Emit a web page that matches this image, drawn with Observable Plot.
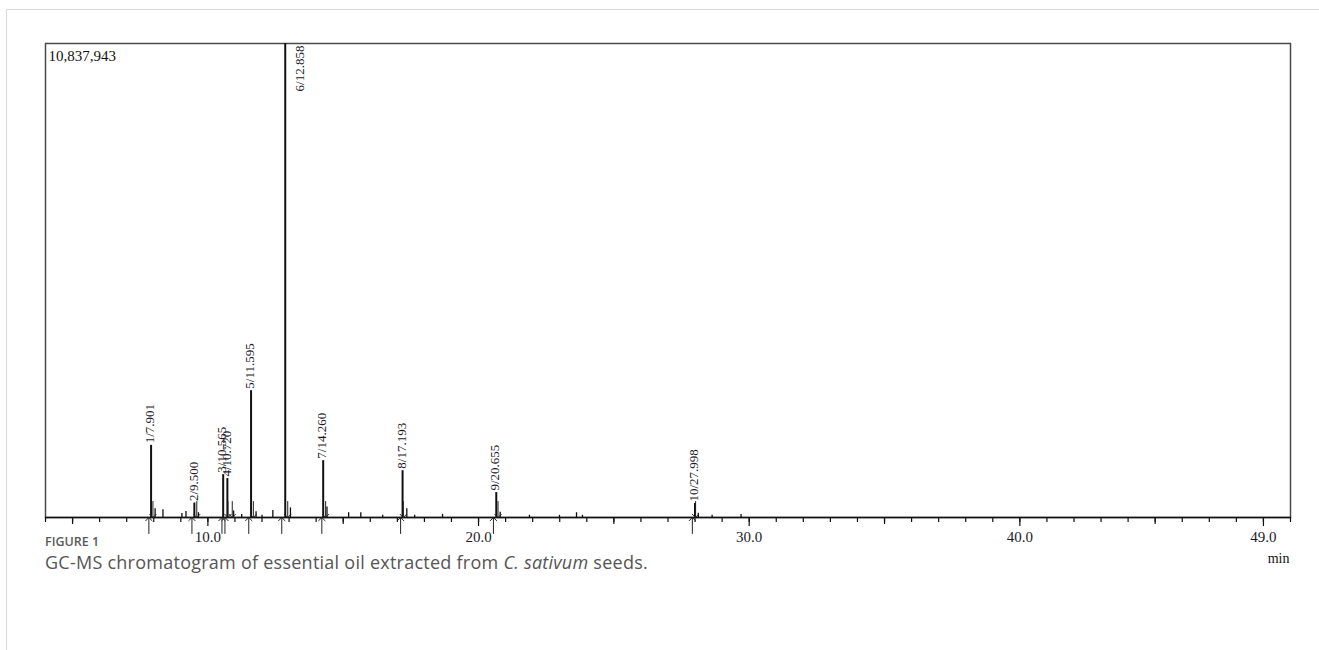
<!DOCTYPE html>
<html>
<head>
<meta charset="utf-8">
<script src="https://cdn.jsdelivr.net/npm/d3@7"></script>
<script src="https://cdn.jsdelivr.net/npm/@observablehq/plot@0.6"></script>
<style>
  html, body { margin: 0; padding: 0; background: #fff; }
  body { width: 1319px; height: 650px; position: relative; overflow: hidden; }
  #card { position: absolute; left: 6px; top: 9px; width: 1320px; height: 700px; border: 1px solid #dadada; box-sizing: border-box; }
  #chart { position: absolute; left: 0; top: 0; }
  #fig { position: absolute; left: 45px; top: 533px; font-family: "Open Sans", "Noto Sans", sans-serif; font-size: 12.5px; font-weight: 600; color: #5a5a5a; }
  #desc { position: absolute; left: 45px; top: 550px; font-family: "Open Sans", "Noto Sans", sans-serif; font-size: 18px; letter-spacing: 0.25px; color: #555; white-space: nowrap; }
</style>
</head>
<body>
<div id="card"></div>
<div id="chart"></div>
<div id="fig">FIGURE 1</div>
<div id="desc">GC-MS chromatogram of essential oil extracted from <i>C. sativum</i> seeds.</div>
<script>
// ---- data ----
const maxIntensity = 10837943;
const timeDomain = [4, 50];

const peakNumbers = [1, 2, 3, 4, 5, 6, 7, 8, 9, 10];
const peakTimes   = [7.901, 9.500, 10.565, 10.720, 11.595, 12.858, 14.260, 17.193, 20.655, 27.998];
const peakHeights = [1650000, 330000, 980000, 890000, 2900000, 10837943, 1300000, 1070000, 570000, 320000];

const peakStarts = [7.82, 9.41, 10.52, 10.63, 11.51, 12.73, 14.21, 17.12, 20.55, 27.90];
const peakEnds   = [7.97, 9.59, 10.74, 10.90, 11.68, 12.95, 14.35, 17.22, 20.72, 28.02];

const minorTimes   = [8.05, 8.34, 9.04, 9.19, 9.65, 10.95, 11.25, 11.78, 12.0, 12.4, 13.05, 14.4, 15.2, 15.65, 16.46, 17.35, 17.64, 18.67, 20.8, 21.88, 22.99, 23.62, 23.84, 28.12, 28.63, 29.7];
const minorHeights = [200000, 180000, 90000, 140000, 110000, 150000, 70000, 130000, 50000, 160000, 220000, 240000, 110000, 110000, 50000, 200000, 50000, 70000, 120000, 50000, 50000, 110000, 50000, 100000, 50000, 70000];

const minorTicks = d3.range(4, 51);
const midTicks   = [5, 15, 25, 35, 45];
const labelTicks = [10, 20, 30, 40, 49];

// ---- tables ----
const peaks = peakNumbers.map((n, i) => ({n, t: peakTimes[i], h: peakHeights[i], label: `${n}/${peakTimes[i].toFixed(3)}`}));
const minor = minorTimes.map((t, i) => ({t, h: minorHeights[i]}));
const serif = "'Liberation Serif', 'Times New Roman', serif";

const chart = Plot.plot({
  width: 1319,
  height: 580,
  marginLeft: 45,
  marginRight: 29,
  marginTop: 43,
  marginBottom: 63,
  style: {background: "none", fontFamily: serif},
  x: {domain: timeDomain, axis: null, label: null},
  y: {domain: [0, maxIntensity], axis: null, label: null},
  marks: [
    Plot.frame({stroke: "#4a4a4a", strokeWidth: 1.5}),
    // minor / midsize / labelled ticks
    Plot.axisX({ticks: minorTicks, tickSize: 5, tickFormat: () => "", label: null, stroke: "#111", strokeWidth: 1.2}),
    Plot.axisX({ticks: midTicks, tickSize: 7, tickFormat: () => "", label: null, stroke: "#111", strokeWidth: 1.2}),
    Plot.axisX({ticks: labelTicks, tickSize: 9, tickPadding: 5, tickFormat: d => d.toFixed(1), label: null, fontSize: 15, fontFamily: serif, fill: "#1b1b2a", stroke: "#111", strokeWidth: 1.2}),
    // trace
    Plot.ruleX(minor, {x: "t", y1: 0, y2: "h", stroke: "#111", strokeWidth: 1.3}),
    Plot.ruleX(peaks, {x: "t", y1: 0, y2: "h", stroke: "#111", strokeWidth: 2}),
    Plot.ruleY([0], {stroke: "#111", strokeWidth: 1.6}),
    // integration markers
    Plot.vector(peakStarts, {x: d => d, y: 0, length: 16, rotate: 0, anchor: "end", shape: "arrow", stroke: "#222", strokeWidth: 1}),
    Plot.vector(peakEnds, {x: d => d, y: 0, length: 16, rotate: 180, anchor: "end", shape: "arrow", stroke: "#222", strokeWidth: 1}),
    // peak labels
    Plot.text(peaks.filter(d => d.h < maxIntensity), {x: "t", y: "h", text: "label", rotate: -90, textAnchor: "start", lineAnchor: "middle", dx: -1, dy: -2, fontSize: 13, fontFamily: serif, fill: "#1b1b2a"}),
    Plot.text(peaks.filter(d => d.h >= maxIntensity), {x: "t", y: "h", text: "label", rotate: -90, textAnchor: "end", lineAnchor: "middle", dx: 15, dy: 2, fontSize: 13, fontFamily: serif, fill: "#1b1b2a"}),
    // max intensity
    Plot.text([maxIntensity], {frameAnchor: "top-left", text: d => d3.format(",")(d), textAnchor: "start", lineAnchor: "top", dx: 3, dy: 7, fontSize: 15, fontFamily: serif, fill: "#111"}),
    // unit
    Plot.text(["min"], {x: timeDomain[1], y: 0, text: d => d, textAnchor: "end", dx: -1, dy: 41, fontSize: 14, fontFamily: serif, fill: "#111"})
  ]
});
document.getElementById("chart").appendChild(chart);
</script>
</body>
</html>
